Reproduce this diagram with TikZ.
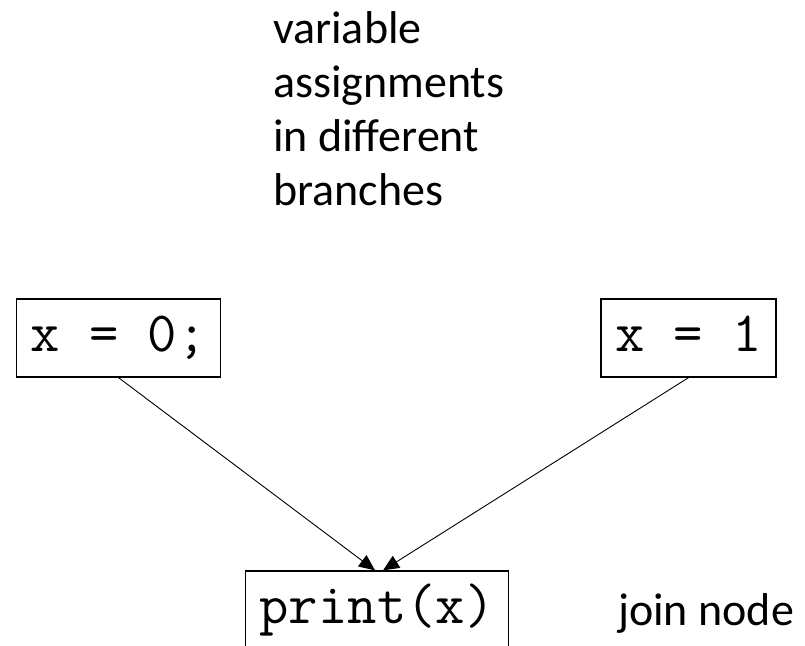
\documentclass[tikz,border=0pt]{standalone}
\usepackage{fontspec}
\setmainfont{Carlito}
\usetikzlibrary{arrows.meta}
\begin{document}
\begin{tikzpicture}[x=1pt,y=-1pt,
  codebox/.style={draw, line width=1.3pt, font=\ttfamily\fontsize{57}{66}\selectfont,
    text height=36pt, text depth=10pt, inner xsep=14pt, inner ysep=16pt},
  edge/.style={line width=0.9pt, -{Triangle[length=16pt,width=14pt]}},
  note/.style={font=\fontsize{46}{54}\selectfont, inner sep=0pt}]
\useasboundingbox (0,0) rectangle (805,645);
\clip (0,0) rectangle (805,645);
\node[note, anchor=base west, align=left] (lbl) at (273,205)
  {variable\\assignments\\in different\\branches};
\node[codebox, anchor=base] (a) at (118.5,351) {x = 0;};
\node[codebox, anchor=base] (b) at (688.5,351) {x = 1};
\node[codebox, anchor=base] (p) at (377,623) {print(x)};
\node[note, anchor=base west] (j) at (618,625) {join node};
\draw[edge] (a.south) -- ([xshift=-2pt]p.north);
\draw[edge] (b.south) -- ([xshift=6pt]p.north);
\end{tikzpicture}
\end{document}
